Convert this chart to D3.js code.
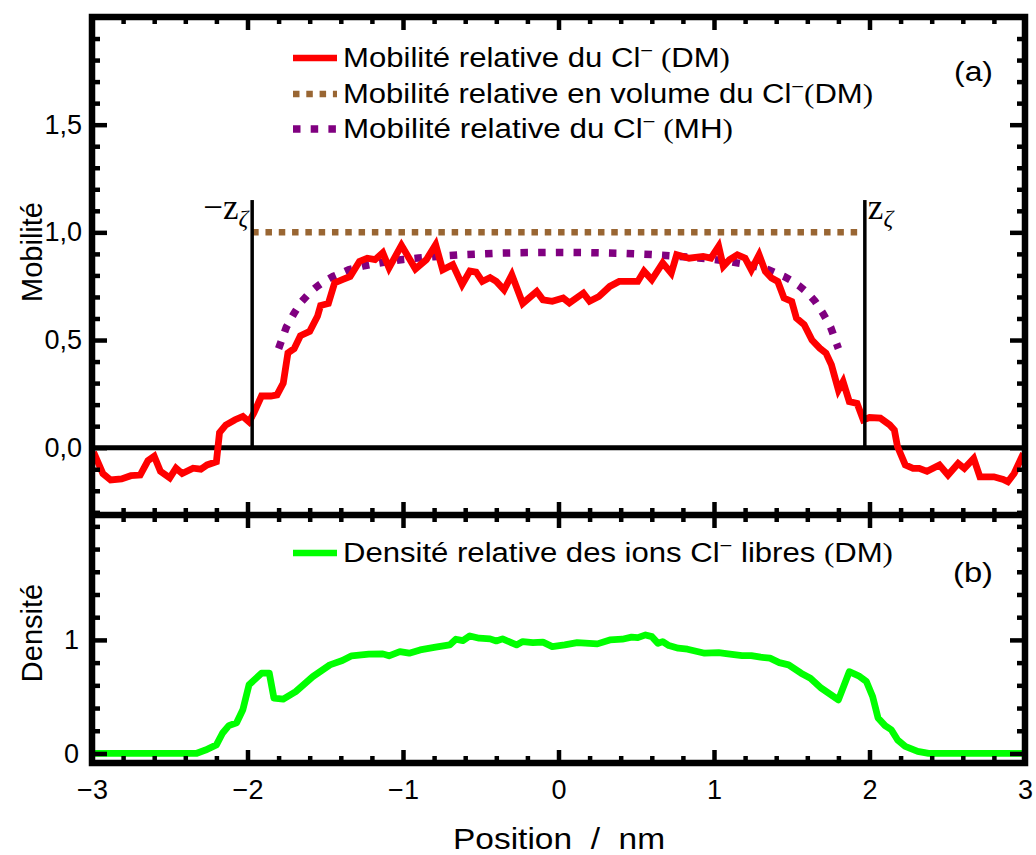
<!DOCTYPE html>
<html><head><meta charset="utf-8">
<script src="https://cdn.jsdelivr.net/npm/d3@7"></script>
<style>
body{margin:0;background:#fff}
svg{display:block}
text{font-family:"Liberation Sans",Arial,sans-serif;fill:#000}
</style>
</head><body><svg id="c" width="1036" height="855"></svg>
<script>
// ---------- data ----------
const redPoints = [
 [-2.99,-0.02],[-2.93,-0.12],[-2.88,-0.15],[-2.81,-0.145],[-2.75,-0.13],[-2.69,-0.127],[-2.64,-0.06],[-2.60,-0.04],
 [-2.56,-0.11],[-2.50,-0.14],[-2.46,-0.095],[-2.42,-0.12],[-2.35,-0.095],[-2.30,-0.10],[-2.26,-0.08],[-2.20,-0.065],
 [-2.18,0.07],[-2.14,0.105],[-2.08,0.13],[-2.03,0.145],[-1.99,0.12],[-1.96,0.16],[-1.91,0.24],[-1.85,0.24],[-1.81,0.245],
 [-1.77,0.30],[-1.74,0.44],[-1.70,0.46],[-1.66,0.52],[-1.60,0.54],[-1.55,0.61],[-1.53,0.66],[-1.48,0.67],[-1.44,0.765],
 [-1.39,0.78],[-1.34,0.795],[-1.28,0.865],[-1.23,0.88],[-1.18,0.873],[-1.13,0.905],[-1.09,0.835],[-1.01,0.94],
 [-0.92,0.83],[-0.85,0.873],[-0.79,0.943],[-0.745,0.826],[-0.68,0.85],[-0.62,0.757],[-0.57,0.82],[-0.53,0.815],
 [-0.49,0.772],[-0.44,0.79],[-0.40,0.772],[-0.35,0.733],[-0.30,0.803],[-0.23,0.67],[-0.14,0.726],[-0.10,0.687],
 [-0.04,0.68],[0.03,0.695],[0.07,0.672],[0.16,0.718],[0.20,0.68],[0.26,0.702],[0.33,0.749],[0.39,0.772],[0.46,0.772],
 [0.51,0.772],[0.55,0.82],[0.60,0.78],[0.67,0.858],[0.725,0.81],[0.76,0.896],[0.84,0.88],[0.93,0.888],[0.98,0.88],
 [1.03,0.935],[1.06,0.842],[1.10,0.873],[1.15,0.896],[1.20,0.88],[1.24,0.826],[1.29,0.896],[1.33,0.819],[1.37,0.788],
 [1.41,0.772],[1.45,0.695],[1.50,0.679],[1.53,0.602],[1.58,0.571],[1.63,0.50],[1.68,0.462],[1.72,0.439],[1.755,0.385],
 [1.80,0.268],[1.83,0.307],[1.87,0.214],[1.92,0.206],[1.96,0.129],[2.00,0.14],[2.07,0.137],[2.13,0.106],[2.16,0.082],
 [2.18,0.005],[2.23,-0.08],[2.28,-0.096],[2.32,-0.096],[2.37,-0.11],[2.45,-0.08],[2.505,-0.127],[2.57,-0.073],
 [2.61,-0.096],[2.67,-0.05],[2.71,-0.135],[2.80,-0.135],[2.86,-0.147],[2.89,-0.158],[2.93,-0.12],[2.99,-0.026]
];
const bulkPoints = [[-1.97,1.0],[1.97,1.0]];
const mhPoints = [
 [-1.80,0.46],[-1.75,0.56],[-1.70,0.625],[-1.65,0.68],[-1.60,0.72],[-1.55,0.75],[-1.50,0.775],[-1.45,0.795],
 [-1.40,0.81],[-1.35,0.826],[-1.30,0.836],[-1.25,0.845],[-1.20,0.852],[-1.10,0.864],[-1.00,0.874],[-0.90,0.881],
 [-0.80,0.887],[-0.60,0.897],[-0.40,0.903],[-0.20,0.906],[0.00,0.907],[0.20,0.906],[0.40,0.903],[0.60,0.897],
 [0.80,0.887],[0.90,0.881],[1.00,0.874],[1.10,0.864],[1.20,0.852],[1.25,0.845],[1.30,0.836],[1.35,0.826],
 [1.40,0.81],[1.45,0.795],[1.50,0.775],[1.55,0.75],[1.60,0.72],[1.65,0.68],[1.70,0.625],[1.75,0.56],[1.80,0.46]
];
const greenPoints = [
 [-3.0,0],[-2.33,0],[-2.27,0.03],[-2.20,0.075],[-2.16,0.18],[-2.12,0.245],[-2.07,0.27],[-2.03,0.385],[-1.99,0.605],
 [-1.91,0.707],[-1.86,0.707],[-1.83,0.487],[-1.77,0.478],[-1.69,0.545],[-1.58,0.677],[-1.47,0.78],[-1.39,0.818],
 [-1.33,0.86],[-1.22,0.874],[-1.13,0.877],[-1.09,0.86],[-1.02,0.897],[-0.96,0.883],[-0.89,0.912],[-0.79,0.936],
 [-0.70,0.956],[-0.66,1.006],[-0.615,0.994],[-0.57,1.035],[-0.51,1.015],[-0.44,1.009],[-0.40,0.991],[-0.36,1.009],
 [-0.27,0.956],[-0.23,0.985],[-0.165,0.976],[-0.10,0.98],[-0.04,0.941],[0.04,0.956],[0.12,0.976],[0.25,0.965],
 [0.33,1.0],[0.41,1.006],[0.47,1.024],[0.51,1.02],[0.56,1.044],[0.60,1.029],[0.64,0.97],[0.67,0.985],[0.71,0.95],
 [0.77,0.927],[0.83,0.918],[0.94,0.883],[1.03,0.888],[1.09,0.877],[1.18,0.862],[1.24,0.862],[1.30,0.848],
 [1.36,0.839],[1.42,0.80],[1.48,0.78],[1.56,0.707],[1.62,0.663],[1.69,0.575],[1.80,0.472],[1.87,0.72],[1.93,0.684],
 [1.98,0.634],[2.02,0.502],[2.055,0.312],[2.10,0.245],[2.14,0.209],[2.18,0.12],[2.23,0.062],[2.31,0.018],[2.38,0],[3.0,0]
];
const zetaPositions = [-1.97, 1.97];
const zetaTop = 1.15;
const xTickValues = [-3,-2,-1,0,1,2,3];
const xTickLabels = ["\u22123","\u22122","\u22121","0","1","2","3"];
const topTickValues = [0,0.5,1,1.5];
const topTickLabels = ["0,0","0,5","1,0","1,5"];
const botTickValues = [0,1];
const botTickLabels = ["0","1"];

// ---------- layout ----------
const svg = d3.select("#c");
const L = 92, R = 1025, T = 17, M = 515, B = 763;
const x = d3.scaleLinear().domain([-3,3]).range([L,R]);
const yA = d3.scaleLinear().domain([-0.3125,2]).range([M,T]);
const yB = d3.scaleLinear().domain([-0.084,2.1]).range([B,M]);

const xMinor = d3.range(-30,31,2).map(v=>v/10).filter(v=>!xTickValues.includes(v));
const yAMinor = d3.range(-3,20,1).map(v=>v/10).filter(v=>!topTickValues.includes(v));
const yBMinor = d3.range(0,21,2).map(v=>v/10).filter(v=>!botTickValues.includes(v));

const lineA = d3.line().x(d=>x(d[0])).y(d=>yA(d[1]));
const lineB = d3.line().x(d=>x(d[0])).y(d=>yB(d[1]));

// zero line
svg.append("line").attr("x1",L).attr("x2",R).attr("y1",yA(0)).attr("y2",yA(0))
  .attr("stroke","#000").attr("stroke-width",5);

// curves
svg.append("path").datum(bulkPoints).attr("d",lineA).attr("fill","none")
  .attr("stroke","#996633").attr("stroke-width",6.5).attr("stroke-dasharray","6.5,6.8");
svg.append("path").datum(mhPoints).attr("d",lineA).attr("fill","none")
  .attr("stroke","#800080").attr("stroke-width",7.5).attr("stroke-dasharray","7.5,10.2");
svg.append("path").datum(redPoints).attr("d",lineA).attr("fill","none")
  .attr("stroke","#ff0000").attr("stroke-width",6.8).attr("stroke-linejoin","miter");
svg.append("path").datum(greenPoints).attr("d",lineB).attr("fill","none")
  .attr("stroke","#00ff00").attr("stroke-width",6.8).attr("stroke-linejoin","round");

// zeta lines
zetaPositions.forEach(z=>{
  svg.append("line").attr("x1",x(z)).attr("x2",x(z)).attr("y1",yA(0)).attr("y2",yA(zetaTop))
    .attr("stroke","#000").attr("stroke-width",3.5);
});
const serif = "'Liberation Serif','Times New Roman',serif";
const zl = svg.append("text").attr("x",x(zetaPositions[0])-4).attr("y",yA(zetaTop)+19)
  .attr("text-anchor","end").style("font-family",serif).style("font-size","35px");
zl.append("tspan").text("\u2212z");
zl.append("tspan").attr("dy",7).style("font-size","24px").style("font-style","italic").text("\u03B6");
const zr = svg.append("text").attr("x",x(zetaPositions[1])+3).attr("y",yA(zetaTop)+19)
  .attr("text-anchor","start").style("font-family",serif).style("font-size","35px");
zr.append("tspan").text("z");
zr.append("tspan").attr("dy",7).style("font-size","24px").style("font-style","italic").text("\u03B6");

// ---------- axes / ticks ----------
function styleAxis(g){ g.select(".domain").remove(); g.selectAll(".tick line").attr("stroke","#000").attr("stroke-width",4.5); g.selectAll("text").style("font-size","27px").attr("fill","#000"); }
function ax(gen, tx, ty){ const g = svg.append("g").attr("transform",`translate(${tx},${ty})`).call(gen); styleAxis(g); return g; }

// top panel
ax(d3.axisLeft(yA).tickValues(topTickValues).tickSizeInner(-15).tickSizeOuter(0).tickPadding(10)
   .tickFormat((d,i)=>topTickLabels[i]), L, 0);
ax(d3.axisLeft(yA).tickValues(yAMinor).tickSizeInner(-8).tickSizeOuter(0).tickFormat(""), L, 0);
ax(d3.axisRight(yA).tickValues(topTickValues).tickSizeInner(-15).tickSizeOuter(0).tickFormat(""), R, 0);
ax(d3.axisRight(yA).tickValues(yAMinor).tickSizeInner(-8).tickSizeOuter(0).tickFormat(""), R, 0);
ax(d3.axisTop(x).tickValues(xTickValues).tickSizeInner(-13).tickSizeOuter(0).tickFormat(""), 0, T);
ax(d3.axisTop(x).tickValues(xMinor).tickSizeInner(-7).tickSizeOuter(0).tickFormat(""), 0, T);
ax(d3.axisBottom(x).tickValues(xTickValues).tickSizeInner(-13).tickSizeOuter(0).tickFormat(""), 0, M);
ax(d3.axisBottom(x).tickValues(xMinor).tickSizeInner(-7).tickSizeOuter(0).tickFormat(""), 0, M);
// bottom panel
ax(d3.axisLeft(yB).tickValues(botTickValues).tickSizeInner(-15).tickSizeOuter(0).tickPadding(13)
   .tickFormat((d,i)=>botTickLabels[i]), L, 0);
ax(d3.axisLeft(yB).tickValues(yBMinor).tickSizeInner(-8).tickSizeOuter(0).tickFormat(""), L, 0);
ax(d3.axisRight(yB).tickValues(botTickValues).tickSizeInner(-15).tickSizeOuter(0).tickFormat(""), R, 0);
ax(d3.axisRight(yB).tickValues(yBMinor).tickSizeInner(-8).tickSizeOuter(0).tickFormat(""), R, 0);
ax(d3.axisTop(x).tickValues(xTickValues).tickSizeInner(-13).tickSizeOuter(0).tickFormat(""), 0, M);
ax(d3.axisTop(x).tickValues(xMinor).tickSizeInner(-7).tickSizeOuter(0).tickFormat(""), 0, M);
ax(d3.axisBottom(x).tickValues(xTickValues).tickSizeInner(-13).tickSizeOuter(0).tickPadding(17)
   .tickFormat((d,i)=>xTickLabels[i]), 0, B);
ax(d3.axisBottom(x).tickValues(xMinor).tickSizeInner(-7).tickSizeOuter(0).tickFormat(""), 0, B);

// frame
svg.append("rect").attr("x",L).attr("y",T).attr("width",R-L).attr("height",B-T)
  .attr("fill","none").attr("stroke","#000").attr("stroke-width",6.5);
svg.append("line").attr("x1",L).attr("x2",R).attr("y1",M).attr("y2",M).attr("stroke","#000").attr("stroke-width",6.5);

// axis titles
svg.append("text").attr("transform","translate(42,252) rotate(-90)").attr("text-anchor","middle")
  .style("font-size","29px").text("Mobilité");
svg.append("text").attr("transform","translate(42,633) rotate(-90)").attr("text-anchor","middle")
  .style("font-size","29px").text("Densité");
svg.append("text").attr("x",559).attr("y",849).attr("text-anchor","middle").style("font-size","30px")
  .style("white-space","pre").attr("textLength",212).attr("lengthAdjust","spacingAndGlyphs").text("Position  /  nm");

// panel labels
svg.append("text").attr("x",954).attr("y",81).style("font-size","27px").attr("textLength",39).attr("lengthAdjust","spacingAndGlyphs").text("(a)");
svg.append("text").attr("x",953).attr("y",582).style("font-size","27px").attr("textLength",40).attr("lengthAdjust","spacingAndGlyphs").text("(b)");

// ---------- legends ----------
const legendItems = [
  {y:58, color:"#ff0000", dash:null, w:6.5, pre:"Mobilité relative du Cl", post:"DM", sp:" ", len:387},
  {y:94, color:"#996633", dash:"6.5,6.8", w:6.5, pre:"Mobilité relative en volume du Cl", post:"DM", sp:"", len:530},
  {y:129, color:"#800080", dash:"7.5,10.2", w:7.5, pre:"Mobilité relative du Cl", post:"MH", sp:" ", len:390}
];
function legendRow(it){
  const ln = svg.append("line").attr("x1",293).attr("x2",337).attr("y1",it.y).attr("y2",it.y)
    .attr("stroke",it.color).attr("stroke-width",it.w);
  if(it.dash) ln.attr("stroke-dasharray",it.dash);
  const t = svg.append("text").attr("x",343).attr("y",it.y+9).style("font-size","27px").style("white-space","pre")
    .attr("textLength",it.len).attr("lengthAdjust","spacingAndGlyphs");
  t.append("tspan").text(it.pre);
  t.append("tspan").attr("dy",-10).style("font-size","19px").text("\u2212");
  t.append("tspan").attr("dy",10).style("font-family",serif).text(it.sp + "(");
  t.append("tspan").text(it.post);
  t.append("tspan").style("font-family",serif).text(")");
}
legendItems.forEach(legendRow);
// green legend
(function(){
  svg.append("line").attr("x1",293).attr("x2",337).attr("y1",553).attr("y2",553)
    .attr("stroke","#00ff00").attr("stroke-width",6.5);
  const t = svg.append("text").attr("x",343).attr("y",562).style("font-size","27px").style("white-space","pre")
    .attr("textLength",550).attr("lengthAdjust","spacingAndGlyphs");
  t.append("tspan").text("Densité relative des ions Cl");
  t.append("tspan").attr("dy",-10).style("font-size","19px").text("\u2212");
  t.append("tspan").attr("dy",10).text(" libres ");
  t.append("tspan").style("font-family",serif).text("(");
  t.append("tspan").text("DM");
  t.append("tspan").style("font-family",serif).text(")");
})();
</script>
</body></html>
